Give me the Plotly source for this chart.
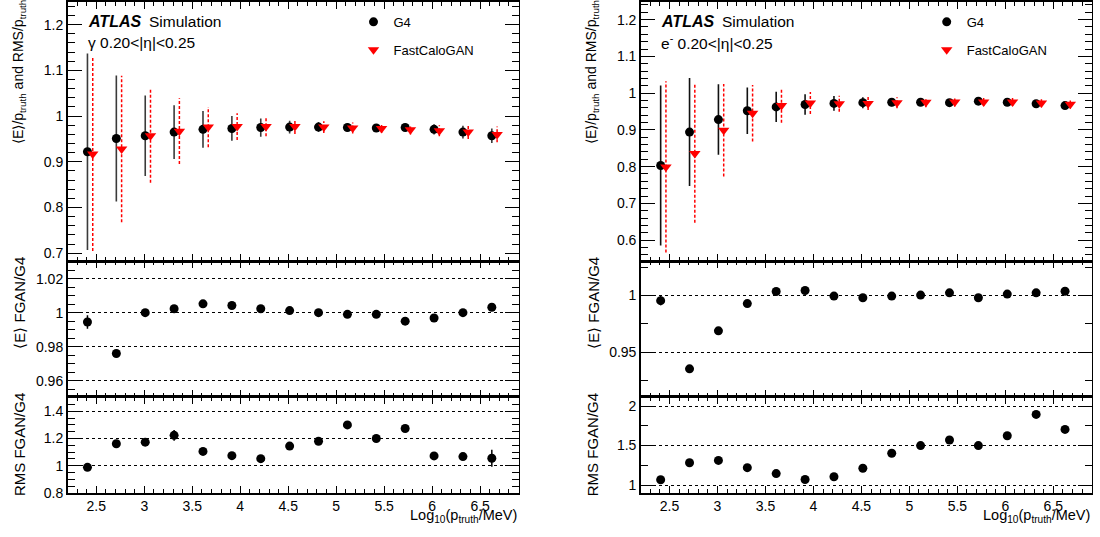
import plotly.graph_objects as go

# ---------------- data ----------------
log10_ptruth = [2.408, 2.709, 3.010, 3.311, 3.612, 3.913, 4.214, 4.515,
                4.816, 5.117, 5.418, 5.719, 6.020, 6.321, 6.622]

# photons (left)
g4_mean_gam = [0.922, 0.951, 0.957, 0.965, 0.971, 0.973, 0.975, 0.976,
               0.976, 0.975, 0.974, 0.975, 0.971, 0.965, 0.957]
g4_rms_gam = [0.215, 0.138, 0.088, 0.059, 0.040, 0.027, 0.020, 0.014,
              0.011, 0.009, 0.008, 0.008, 0.011, 0.014, 0.016]
fgan_mean_gam = [0.917, 0.928, 0.957, 0.967, 0.976, 0.977, 0.977, 0.977,
                 0.976, 0.974, 0.973, 0.970, 0.968, 0.965, 0.960]
fgan_rms_gam = [0.212, 0.160, 0.103, 0.072, 0.044, 0.029, 0.021, 0.016,
                0.013, 0.012, 0.010, 0.010, 0.012, 0.015, 0.017]
ratio_mean_gam = [0.9945, 0.976, 1.000, 1.0023, 1.0052, 1.0042, 1.0023, 1.0012,
                  1.000, 0.999, 0.999, 0.995, 0.9969, 1.000, 1.0032]
ratio_mean_err_gam = [0.004, 0.001, 0.0008, 0.0006, 0.0005, 0.0005, 0.0005, 0.0005,
                      0.0005, 0.0005, 0.0005, 0.0005, 0.0005, 0.0005, 0.0006]
ratio_rms_gam = [0.988, 1.161, 1.173, 1.223, 1.105, 1.074, 1.052, 1.144,
                 1.180, 1.300, 1.200, 1.273, 1.072, 1.067, 1.055]
ratio_rms_err_gam = [0.01, 0.015, 0.015, 0.04, 0.01, 0.01, 0.01, 0.01,
                     0.01, 0.01, 0.01, 0.01, 0.01, 0.015, 0.063]

# electrons (right)
g4_mean_ele = [0.803, 0.894, 0.928, 0.952, 0.9625, 0.969, 0.972, 0.974,
               0.975, 0.975, 0.974, 0.978, 0.975, 0.971, 0.966]
g4_rms_ele = [0.218, 0.147, 0.096, 0.063, 0.041, 0.028, 0.020, 0.015,
              0.011, 0.009, 0.008, 0.007, 0.007, 0.006, 0.007]
fgan_mean_ele = [0.799, 0.836, 0.899, 0.945, 0.966, 0.973, 0.971, 0.972,
                 0.974, 0.975, 0.976, 0.976, 0.976, 0.973, 0.970]
fgan_rms_ele = [0.233, 0.189, 0.126, 0.077, 0.047, 0.030, 0.022, 0.018,
                0.015, 0.0135, 0.0126, 0.0105, 0.0114, 0.0114, 0.012]
ratio_mean_ele = [0.9954, 0.9353, 0.9688, 0.9928, 1.0035, 1.0043, 0.9994, 0.998,
                  0.9994, 1.0003, 1.0023, 0.998, 1.0012, 1.0023, 1.0037]
ratio_mean_err_ele = [0.004, 0.001, 0.001, 0.0007, 0.0006, 0.0005, 0.0005, 0.0005,
                      0.0005, 0.0005, 0.0005, 0.0005, 0.0005, 0.0005, 0.0005]
ratio_rms_ele = [1.067, 1.283, 1.312, 1.220, 1.145, 1.070, 1.105, 1.213,
                 1.403, 1.500, 1.570, 1.500, 1.625, 1.895, 1.705]
ratio_rms_err_ele = [0.01, 0.01, 0.01, 0.01, 0.01, 0.01, 0.01, 0.01,
                     0.01, 0.01, 0.01, 0.01, 0.01, 0.01, 0.01]

labels_particle = ["γ 0.20<|η|<0.25", "e<sup>-</sup> 0.20<|η|<0.25"]
series_names = ["G4", "FastCaloGAN"]

# ---------------- layout geometry (pixels) ----------------
W, H = 1100, 537
FGAN_SHIFT = 0.055
X_RANGE = [2.2, 6.9]
COLS = [(67.5, 518.5), (640.7, 1091.7)]
ROWS = [(2, 265), (265, 403), (403, 500.5)]
YR = [
    [[0.683, 1.2496], [0.9505, 1.0303], [0.799, 1.505]],
    [[0.543, 1.248], [0.9105, 1.0303], [0.899, 2.115]],
]
YT = [
    [(0.1, 0.02), (0.02, 0.005), (0.2, 0.05)],
    [(0.1, 0.02), (0.05, 0.025), (0.5, 0.25)],
]

FONT = "Liberation Sans, Arial, sans-serif"

fig = go.Figure()

charts = [
    dict(g4m=g4_mean_gam, g4r=g4_rms_gam, fm=fgan_mean_gam, fr=fgan_rms_gam,
         rm=ratio_mean_gam, rme=ratio_mean_err_gam, rr=ratio_rms_gam, rre=ratio_rms_err_gam,
         errcol="#3a3a3a"),
    dict(g4m=g4_mean_ele, g4r=g4_rms_ele, fm=fgan_mean_ele, fr=fgan_rms_ele,
         rm=ratio_mean_ele, rme=ratio_mean_err_ele, rr=ratio_rms_ele, rre=ratio_rms_err_ele,
         errcol="#111111"),
]

layout_axes = {}
for c, ch in enumerate(charts):
    leg = "legend" if c == 0 else "legend2"
    for r in range(3):
        idx = 1 + 3 * c + r
        xa = "x" if idx == 1 else f"x{idx}"
        ya = "y" if idx == 1 else f"y{idx}"
        x0, x1 = COLS[c]
        y0, y1 = ROWS[r]
        major, minor = YT[c][r]
        layout_axes["xaxis" if idx == 1 else f"xaxis{idx}"] = dict(
            domain=[x0 / W, x1 / W], anchor=ya, range=X_RANGE,
            showline=True, linecolor="black", linewidth=1.5, mirror="allticks",
            ticks="inside", ticklen=7, tickwidth=1, tickcolor="black",
            tick0=0, dtick=0.5, showgrid=False, zeroline=False,
            minor=dict(ticks="inside", ticklen=4, dtick=0.1, tickcolor="black", showgrid=False),
            showticklabels=(r == 2),
            tickfont=dict(family=FONT, size=14, color="black"),
        )
        layout_axes["yaxis" if idx == 1 else f"yaxis{idx}"] = dict(
            domain=[1 - y1 / H, 1 - y0 / H], anchor=xa, range=YR[c][r],
            showline=True, linecolor="black", linewidth=1.5, mirror="allticks",
            ticks="inside", ticklen=14, tickwidth=1, tickcolor="black",
            tick0=0, dtick=major, zeroline=False,
            showgrid=(r > 0), gridcolor="black", griddash="dot", gridwidth=1,
            minor=dict(ticks="inside", ticklen=7, dtick=minor, tickcolor="black", showgrid=False),
            tickfont=dict(family=FONT, size=14, color="black"),
        )

    xt = "x" if c == 0 else f"x{1 + 3 * c}"
    yt = "y" if c == 0 else f"y{1 + 3 * c}"
    # G4 mean with RMS bars
    fig.add_trace(go.Scatter(
        x=log10_ptruth, y=ch["g4m"], mode="markers", name=series_names[0],
        xaxis=xt, yaxis=yt, legend=leg, legendgroup=f"g4{c}",
        marker=dict(symbol="circle", size=9, color="black"),
        error_y=dict(type="data", array=ch["g4r"], width=0, thickness=1.6, color=ch["errcol"]),
    ))
    # FastCaloGAN dashed RMS bars
    ex, ey = [], []
    for xv, m, s in zip(log10_ptruth, ch["fm"], ch["fr"]):
        ex += [xv + FGAN_SHIFT, xv + FGAN_SHIFT, None]
        ey += [m - s, m + s, None]
    fig.add_trace(go.Scatter(
        x=ex, y=ey, mode="lines", xaxis=xt, yaxis=yt, showlegend=False,
        line=dict(color="red", width=1.5, dash="3px,2px"), hoverinfo="skip",
    ))
    fig.add_trace(go.Scatter(
        x=[v + FGAN_SHIFT for v in log10_ptruth], y=ch["fm"], mode="markers",
        name=series_names[1], xaxis=xt, yaxis=yt, legend=leg, legendgroup=f"fg{c}",
        marker=dict(symbol="triangle-down", size=10, color="red"),
    ))
    # ratio panels
    for r, (vals, errs) in enumerate([(ch["rm"], ch["rme"]), (ch["rr"], ch["rre"])], start=1):
        idx = 1 + 3 * c + r
        fig.add_trace(go.Scatter(
            x=log10_ptruth, y=vals, mode="markers", xaxis=f"x{idx}", yaxis=f"y{idx}",
            showlegend=False, marker=dict(symbol="circle", size=9, color="black"),
            error_y=dict(type="data", array=errs, width=0, thickness=1.5, color="black"),
        ))

annotations = []
for c in range(2):
    x0, x1 = COLS[c]
    # ATLAS label
    annotations.append(dict(x=(x0 + 18) / W, y=1 - 22 / H, xref="paper", yref="paper",
                            xanchor="left", yanchor="middle", showarrow=False,
                            text="<b><i>ATLAS</i></b>",
                            font=dict(family=FONT, size=16, color="black")))
    annotations.append(dict(x=(x0 + 79) / W, y=1 - 22 / H, xref="paper", yref="paper",
                            xanchor="left", yanchor="middle", showarrow=False,
                            text="Simulation",
                            font=dict(family=FONT, size=15.5, color="black")))
    annotations.append(dict(x=(x0 + 18) / W, y=1 - 43 / H, xref="paper", yref="paper",
                            xanchor="left", yanchor="middle", showarrow=False,
                            text=labels_particle[c],
                            font=dict(family=FONT, size=15.5, color="black")))
    # y titles
    tx = (x0 - 48) / W
    annotations.append(dict(x=tx, y=1.003, xref="paper", yref="paper",
                            xanchor="center", yanchor="top", showarrow=False, textangle=-90,
                            text="⟨E⟩/p<sub>truth</sub> and RMS/p<sub>truth</sub>",
                            font=dict(family=FONT, size=14, color="black")))
    annotations.append(dict(x=tx, y=1 - 259 / H, xref="paper", yref="paper",
                            xanchor="center", yanchor="top", showarrow=False, textangle=-90,
                            text="⟨E⟩ FGAN/G4",
                            font=dict(family=FONT, size=15, color="black")))
    annotations.append(dict(x=tx, y=1 - 397 / H, xref="paper", yref="paper",
                            xanchor="center", yanchor="top", showarrow=False, textangle=-90,
                            text="RMS FGAN/G4",
                            font=dict(family=FONT, size=15, color="black")))
    # x title
    annotations.append(dict(x=x1 / W, y=1 - 513 / H, xref="paper", yref="paper",
                            xanchor="right", yanchor="top", showarrow=False,
                            text="Log<sub>10</sub>(p<sub>truth</sub>/MeV)",
                            font=dict(family=FONT, size=14.5, color="black")))

legend_common = dict(xanchor="left", yanchor="top", bgcolor="rgba(0,0,0,0)",
                     font=dict(family=FONT, size=13, color="black"),
                     traceorder="grouped", tracegroupgap=8, borderwidth=0)

fig.update_layout(
    width=W, height=H, margin=dict(l=0, r=0, t=0, b=0),
    paper_bgcolor="white", plot_bgcolor="white",
    showlegend=True, hovermode=False,
    legend=dict(x=(COLS[0][0] + 286) / W, y=1 - 7 / H, **legend_common),
    legend2=dict(x=(COLS[1][0] + 286) / W, y=1 - 7 / H, **legend_common),
    annotations=annotations,
    **layout_axes,
)

fig.write_html("out.html",
               config={"displayModeBar": False, "staticPlot": True},
               post_script="document.body.style.margin='0px';document.body.style.overflow='hidden';")
